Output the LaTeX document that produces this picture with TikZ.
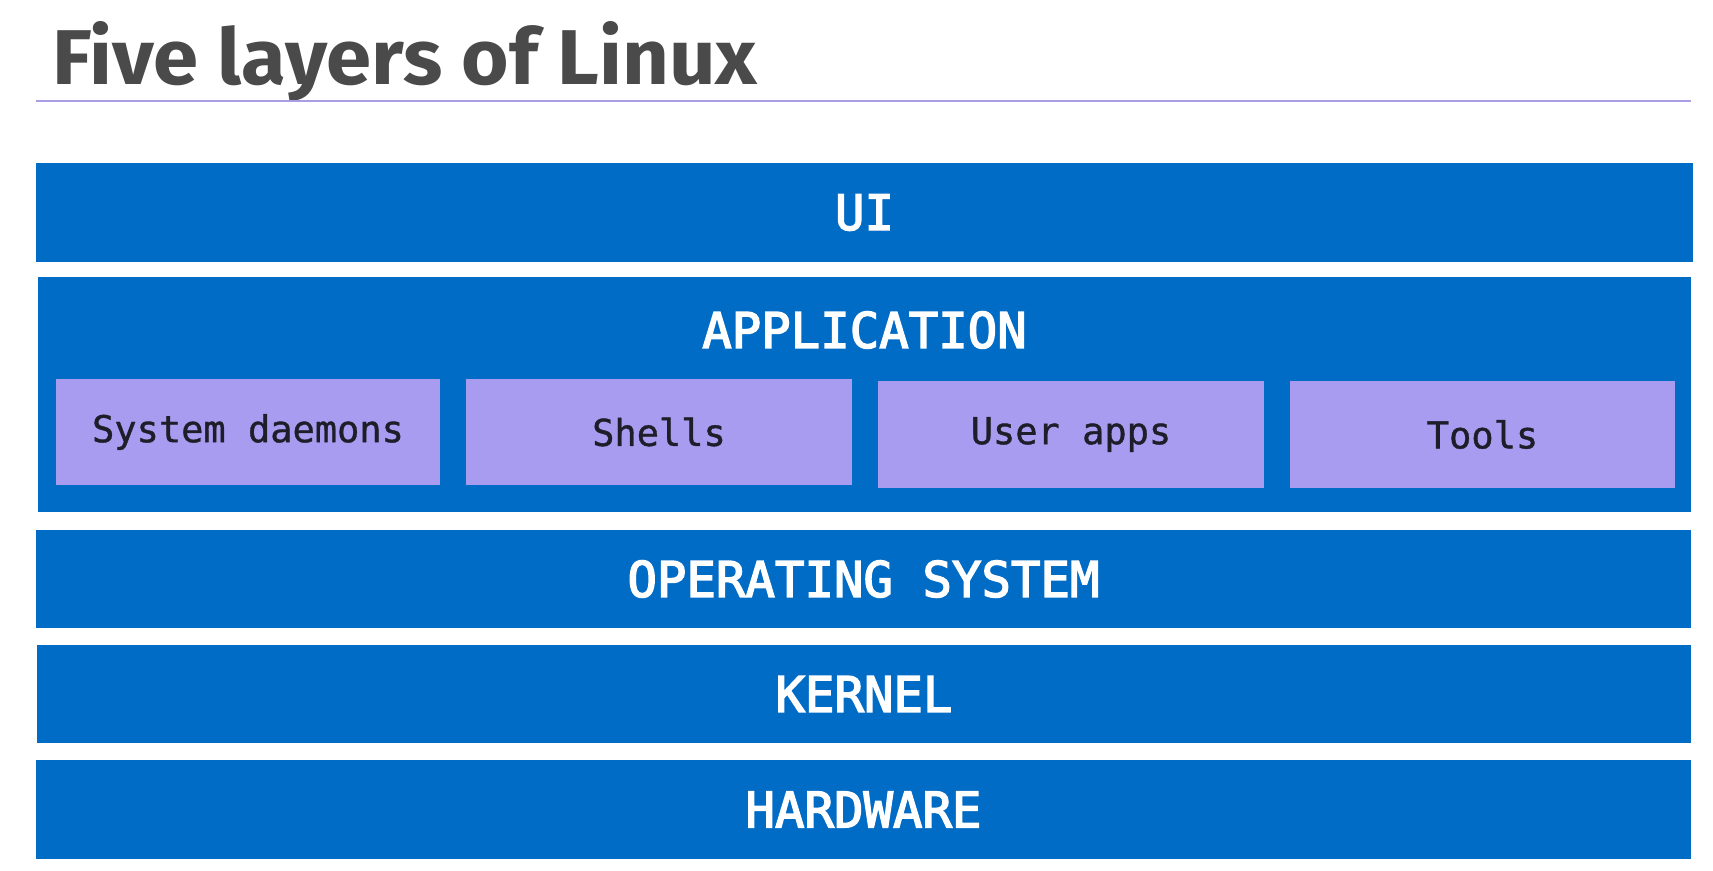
\documentclass[tikz,border=0pt]{standalone}
\usepackage{fontspec}
\setmainfont{DejaVu Sans Mono}
\newfontfamily\titlefont{Fira Sans}
\newfontfamily\labelfont{DejaVu Sans Mono}[FakeBold=3]
\newfontfamily\subfont{DejaVu Sans Mono}[FakeBold=1]
\definecolor{layerblue}{HTML}{006CC6}
\definecolor{subpurple}{HTML}{A89CF0}
\definecolor{titlegray}{HTML}{4A4A4A}
\definecolor{rulepurple}{HTML}{A99EE6}
\definecolor{subtext}{HTML}{1E1E2A}
\begin{document}
\begin{tikzpicture}[x=0.5pt,y=-0.5pt,
  layer/.style={fill=layerblue, draw=none, inner sep=0pt, text=white,
    font=\labelfont\fontsize{24.5pt}{28pt}\selectfont},
  sublabel/.style={text=white, inner sep=0pt,
    font=\labelfont\fontsize{24.5pt}{28pt}\selectfont},
  subbox/.style={fill=subpurple, draw=none, inner sep=0pt, text=subtext,
    minimum width=192.5pt, minimum height=53pt,
    font=\subfont\fontsize{18.5pt}{22pt}\selectfont},
  titletext/.style={anchor=base west, inner sep=0pt, text=titlegray}
]
\useasboundingbox[fill=white] (0,0) rectangle (1713,871);

% title
\node[titletext] (title) at (52,85)
  {\resizebox{352.5pt}{31.5pt}{\titlefont\bfseries Five layers of Linux}};
\coordinate (ruleL) at (36,101.5);
\coordinate (ruleR) at (1691,101.5);
\draw[rulepurple, line width=1pt] (ruleL) -- (ruleR);

% layers
\node[layer, minimum width=828.5pt, minimum height=49.5pt] (ui) at (864.5,212.5) {UI};
\node[layer, minimum width=826.5pt, minimum height=117.5pt] (app) at (864.5,394.5) {};
\node[sublabel] (applabel) at (864.5,330) {APPLICATION};
\node[layer, minimum width=827.5pt, minimum height=49pt] (os) at (863.5,579) {OPERATING SYSTEM};
\node[layer, minimum width=827pt, minimum height=49pt] (kernel) at (864,694) {KERNEL};
\node[layer, minimum width=827.5pt, minimum height=49.5pt] (hw) at (863.5,809.5) {HARDWARE};

% application sub boxes
\node[subbox, minimum width=192pt] (sd) at (248,432) {System daemons};
\node[subbox, minimum width=193pt] (sh) at (659,432) {Shells};
\node[subbox, minimum width=193pt] (ua) at (1071,434.5) {User apps};
\node[subbox] (tools) at (1482.5,434.5) {Tools};
\end{tikzpicture}
\end{document}
